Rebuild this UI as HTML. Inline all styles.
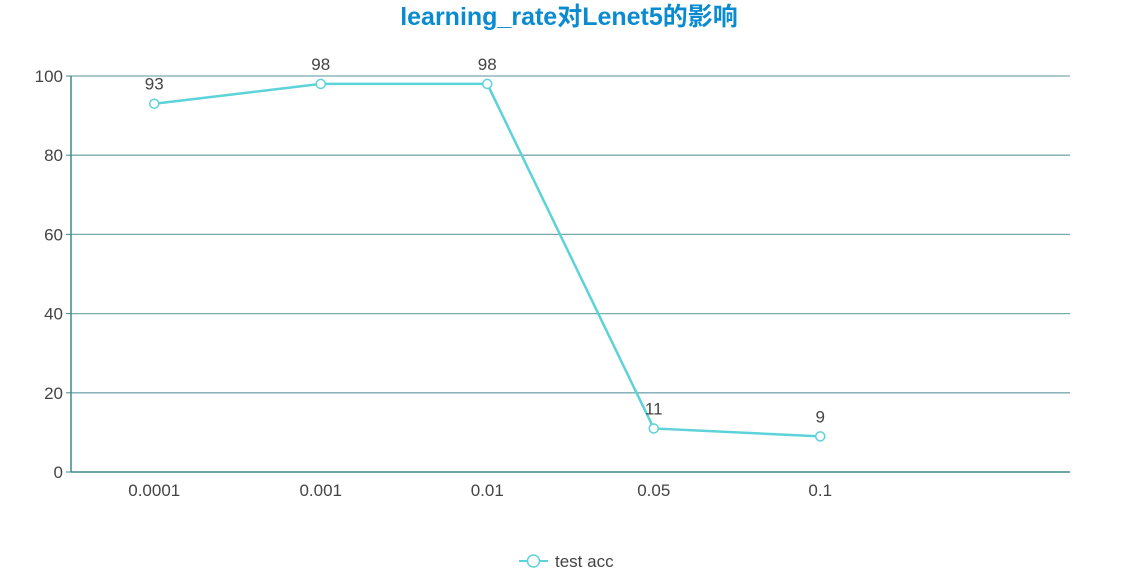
<!DOCTYPE html>
<html><head><meta charset="utf-8"><style>
body{margin:0;background:#fff;}
svg text{font-family:"Liberation Sans","Noto Sans CJK SC",sans-serif;}
</style></head><body>
<svg id="c" width="1139" height="576">
<text x="569" y="25" text-anchor="middle" font-size="25" font-weight="bold" fill="#0a8bd0">learning_rate对Lenet5的影响</text>
<g id="grid"></g><g id="series"></g>
<g>
<line x1="519" y1="561" x2="548" y2="561" stroke="#5bd3d8" stroke-width="2"/>
<circle cx="533.5" cy="561" r="6" fill="#fff" stroke="#5bd3d8" stroke-width="1.5"/>
<text x="555" y="567" font-size="17" fill="#444">test acc</text>
</g>
</svg>
<script>
const categories=["0.0001","0.001","0.01","0.05","0.1",""];
const values=[93,98,98,11,9];
const yTicks=[0,20,40,60,80,100];
const L=71,R=1070,T=76,B=472,yMax=100;
const ns="http://www.w3.org/2000/svg";
const x=i=>L+(R-L)/categories.length*(i+0.5);
const y=v=>B-(B-T)*v/yMax;
function mk(t,a,p,txt){const e=document.createElementNS(ns,t);for(const k in a)e.setAttribute(k,a[k]);if(txt!=null)e.textContent=txt;p.appendChild(e);return e;}
const g=document.getElementById('grid'),s=document.getElementById('series');
yTicks.forEach(v=>{
 const l=mk('line',{x1:L,x2:R,y1:y(v),y2:y(v),stroke:v===0?'#3f8a8c':'#7aaaaf','stroke-width':v===0?1.5:1.3},g);
 
 
 mk('line',{x1:L-5,x2:L,y1:y(v),y2:y(v),stroke:'#3f8a8c'},g);
 const t=mk('text',{x:L-8,y:y(v)+6,'text-anchor':'end','font-size':17,fill:'#444'},g,v);
 
 
});
mk('line',{x1:L,x2:L,y1:T,y2:B,stroke:'#3f8a8c','stroke-width':1.5},g);
categories.forEach((c,i)=>{
 const t=mk('text',{x:x(i),y:B+24,'text-anchor':'middle','font-size':17,fill:'#444'},g,c);
 
 
});
const p=mk('polyline',{points:values.map((v,i)=>x(i)+','+y(v)).join(' '),fill:'none',stroke:'#5bd3d8','stroke-width':2.5},s);


values.forEach((v,i)=>{
 const c=mk('circle',{cx:x(i),cy:y(v),r:4.5,fill:'#fff',stroke:'#5bd3d8','stroke-width':1.5},s);
 
 
 const t=mk('text',{x:x(i),y:y(v)-14,'text-anchor':'middle','font-size':17,fill:'#444'},s,v);
 
 
});
</script>
</body></html>
